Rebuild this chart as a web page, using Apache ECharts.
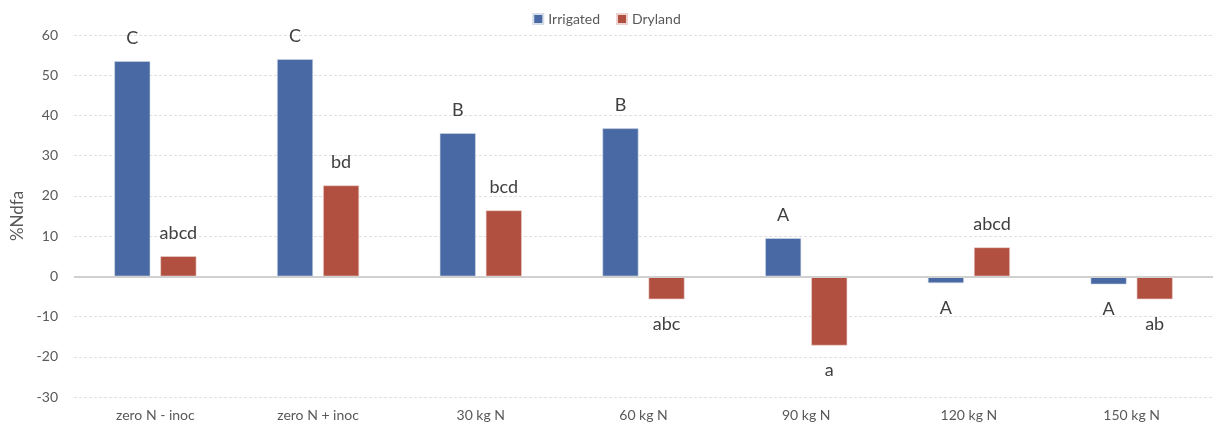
<!DOCTYPE html>
<html>
<head>
<meta charset="utf-8">
<script src="https://cdn.jsdelivr.net/npm/echarts@6/dist/echarts.min.js"></script>
<style>
  html, body { margin: 0; padding: 0; background: #fff; }
  #chart { width: 1213px; height: 427px; }
</style>
</head>
<body>
<div id="chart"></div>
<script>
// Nitrogen treatments along the x axis
const categories = ['zero N - inoc', 'zero N + inoc', '30 kg N', '60 kg N', '90 kg N', '120 kg N', '150 kg N'];

// %Ndfa for each treatment
const irrigated = [53.5, 54.0, 35.6, 36.8, 9.5, -1.7, -2.0];
const dryland   = [5.0, 22.6, 16.4, -5.7, -17.2, 7.2, -5.7];

// Significance letters drawn beside each bar
const irrigatedLetters = ['C', 'C', 'B', 'B', 'A', 'A', 'A'];
const drylandLetters   = ['abcd', 'bd', 'bcd', 'abc', 'a', 'abcd', 'ab'];

// Y axis ticks
const yMin = -30, yMax = 60, yStep = 10;

const FONT = 'Lato, "Open Sans", sans-serif';

function withLetters(values, letters) {
  return values.map((v, i) => ({
    value: v,
    label: {
      show: true,
      formatter: letters[i],
      position: v >= 0 ? 'top' : 'bottom',
      distance: v >= 0 ? 14 : 16
    }
  }));
}

const labelStyle = { fontFamily: FONT, fontSize: 18, color: '#404040' };

const chart = echarts.init(document.getElementById('chart'), null, { renderer: 'canvas' });
chart.setOption({
  animation: false,
  textStyle: { fontFamily: FONT },
  legend: {
    top: 7,
    left: 'center',
    itemWidth: 10,
    itemHeight: 10,
    itemGap: 16,
    itemTextGap: 5,
    icon: 'rect',
    textStyle: { fontFamily: FONT, fontSize: 14, color: '#595959' },
    data: ['Irrigated', 'Dryland']
  },
  grid: { left: 74, top: 35, width: 1144, height: 362, containLabel: false },
  xAxis: {
    type: 'category',
    data: categories,
    position: 'bottom',
    axisLine: { show: false, onZero: false },
    axisTick: { show: false },
    axisLabel: { fontFamily: FONT, fontSize: 14, color: '#595959', margin: 11 }
  },
  yAxis: {
    type: 'value',
    min: yMin,
    max: yMax,
    interval: yStep,
    name: '%Ndfa',
    nameLocation: 'middle',
    nameGap: 46,
    nameTextStyle: { fontFamily: FONT, fontSize: 17, color: '#595959' },
    axisLine: { show: false },
    axisTick: { show: false },
    axisLabel: { fontFamily: FONT, fontSize: 14, color: '#595959', margin: 16 },
    splitLine: { lineStyle: { color: '#e0e0e0', type: [3, 2], width: 1 } }
  },
  series: [
    {
      name: 'Irrigated',
      type: 'bar',
      barWidth: 36,
      barGap: '28%',
      itemStyle: { color: '#4869a3', borderColor: '#d5dcea', borderWidth: 0.6 },
      label: labelStyle,
      data: withLetters(irrigated, irrigatedLetters),
      markLine: {
        silent: true,
        symbol: 'none',
        label: { show: false },
        lineStyle: { color: '#d0d0d0', type: 'solid', width: 2 },
        data: [{ yAxis: 0 }]
      }
    },
    {
      name: 'Dryland',
      type: 'bar',
      barWidth: 36,
      itemStyle: { color: '#b14f40', borderColor: '#ecd3cf', borderWidth: 0.6 },
      label: labelStyle,
      data: withLetters(dryland, drylandLetters)
    }
  ]
});
</script>
</body>
</html>
